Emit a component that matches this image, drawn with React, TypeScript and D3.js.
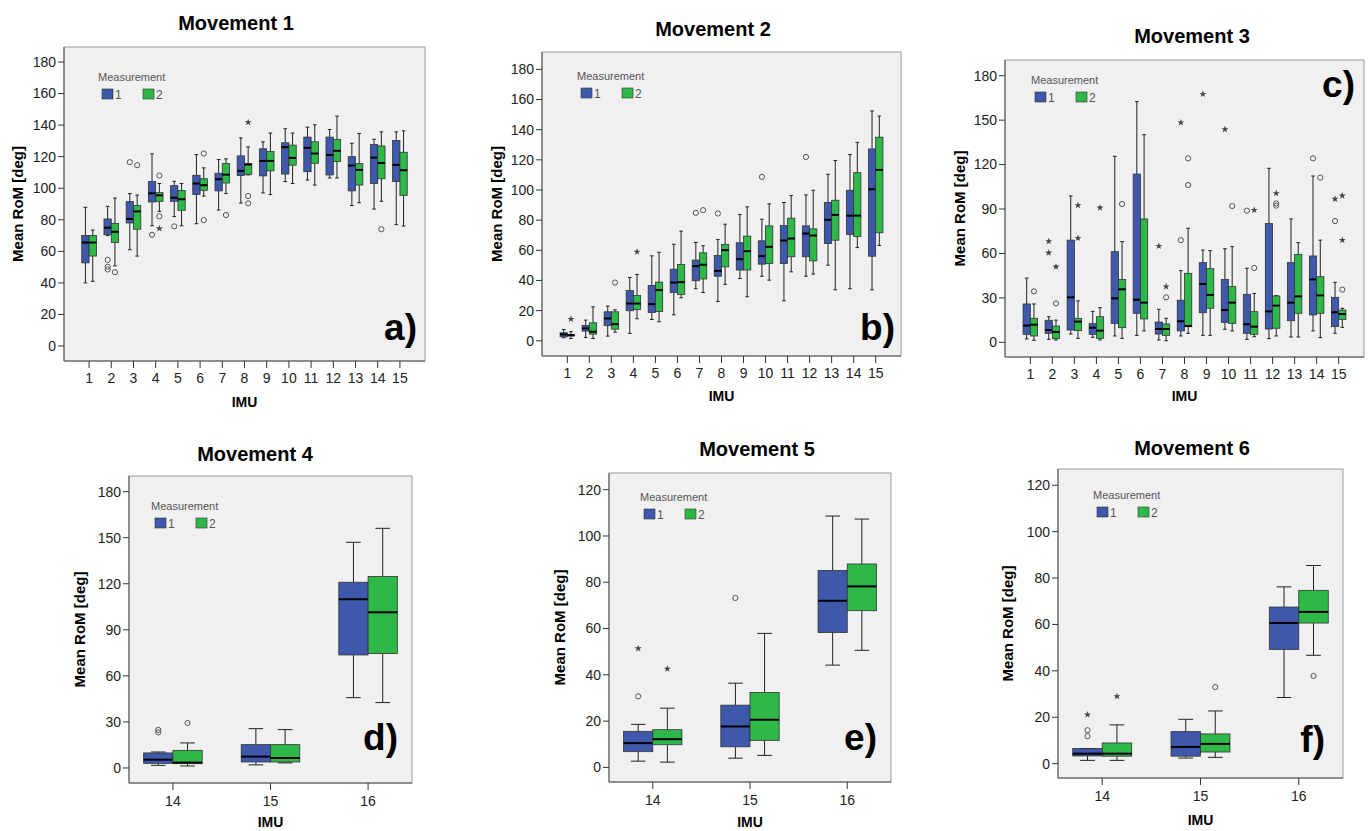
import React from "react";
import * as d3 from "d3";

// each box: [whisker low, Q1, median, Q3, whisker high]
type Five = [number, number, number, number, number];
// outlier: [IMU, measurement, value, marker]  "o" = circle, "*" = extreme
type Outlier = [string, number, number, string];

const imuAll = ["1", "2", "3", "4", "5", "6", "7", "8", "9", "10", "11", "12", "13", "14", "15"];
const imuLate = ["14", "15", "16"];

// ---- Movement 1
const mov1Meas1: Five[] = [
  [40, 52.7, 65.6, 70.1, 87.9], [70, 70.5, 75, 80.5, 88.5], [61, 78, 80.5, 91.5, 96.6],
  [76.2, 91.3, 96.8, 104.2, 121.8], [82, 91.7, 94, 101.6, 104.4], [77.5, 96.1, 103, 108.2, 121.3],
  [86.2, 98.3, 105.7, 109.5, 118.2], [90.6, 108, 111, 120.5, 131.9], [97, 107.8, 117.3, 125, 129.4],
  [104.2, 109, 126, 128.8, 137.7], [105.2, 110.5, 125.6, 132.4, 138.7], [106.5, 108.4, 121.1, 132.4, 137.2],
  [89, 98.3, 114.4, 120, 128.5], [86.8, 103, 119.4, 127.7, 131], [76.9, 104.2, 114.8, 130.2, 135.7],
];
const mov1Meas2: Five[] = [
  [41, 57, 65.6, 70, 73.5], [50.8, 65.6, 72.4, 77.7, 93.8], [57, 74, 85.3, 89, 95.7],
  [85.3, 91.7, 95.5, 97.2, 103], [76.2, 86, 93, 98.5, 103], [95, 98.7, 101.9, 106, 112.9],
  [96.6, 103.3, 108.6, 115.6, 118.6], [108.4, 108.8, 115, 115.6, 126.2], [96, 111, 117.3, 123.3, 135],
  [103, 114.6, 119.2, 127.3, 135], [102, 115.8, 122, 129.4, 140.2], [106.5, 116.9, 123.7, 130.9, 145.7],
  [90.8, 102, 111.6, 115.6, 134.7], [91.7, 106, 116, 126.8, 135.7], [76, 95.5, 111.4, 122.8, 136.4],
];
const mov1Outliers: Outlier[] = [
  ["2", 1, 54.6, "o"], ["2", 1, 50.2, "o"], ["2", 1, 48.5, "o"], ["3", 1, 116.5, "o"],
  ["4", 1, 70.5, "o"], ["5", 1, 75.8, "o"],
  ["2", 2, 46.8, "o"], ["3", 2, 114.6, "o"], ["4", 2, 108, "o"], ["4", 2, 82.2, "o"], ["4", 2, 74.5, "*"],
  ["6", 2, 122, "o"], ["6", 2, 79.8, "o"], ["7", 2, 83, "o"], ["8", 2, 141.7, "*"], ["8", 2, 95, "o"],
  ["8", 2, 90.4, "o"], ["14", 2, 74, "o"],
];

// ---- Movement 2
const mov2Meas1: Five[] = [
  [2, 2.6, 4.2, 5.3, 7.5], [2.2, 6.4, 8.2, 10.2, 13.7], [3.1, 10, 14.8, 19.2, 23],
  [4.9, 19.9, 24.7, 33.3, 42], [14.1, 18.8, 24.3, 36.7, 56.3], [17.2, 32, 38.6, 47.5, 64],
  [34.5, 39.8, 49.5, 53.5, 65.2], [26, 42.8, 46.4, 56.5, 67.1], [41.3, 46.9, 54.1, 65, 83.8],
  [42.8, 50.8, 56.1, 66.3, 80.6], [26.5, 51.2, 66.5, 76.4, 91.7], [42.8, 55.7, 71.1, 76.2, 96.7],
  [50.1, 64.5, 80.2, 91.7, 110.4], [34.5, 70.5, 83, 99.8, 123.5], [33.8, 56.1, 100.5, 127.2, 152.4],
];
const mov2Meas2: Five[] = [
  [1.5, 3.1, 3.8, 4.2, 6], [1.5, 4.4, 6, 11.9, 22.5], [5.7, 7.7, 11, 19.2, 20.5],
  [14.6, 20.8, 24.7, 30, 44], [12.6, 19.4, 33.6, 38.9, 58.7], [28.5, 30.7, 38.9, 50.6, 72.7],
  [32, 41, 50.4, 58.3, 63], [37.4, 49, 60.1, 63.9, 77.3], [29.2, 46.9, 59.4, 69.4, 88.8],
  [40.2, 51.2, 62.3, 76.2, 90.8], [45.7, 55.7, 67.8, 81.3, 96.3], [44.2, 53, 69.8, 74.2, 99.8],
  [33.8, 66.7, 83.5, 93.2, 119.5], [61.8, 69.1, 83, 111.5, 131.6], [63.2, 71.6, 113.3, 135, 149],
];
const mov2Outliers: Outlier[] = [
  ["1", 2, 14.4, "*"], ["3", 2, 38.6, "o"], ["4", 2, 59, "*"], ["7", 1, 84.8, "o"], ["7", 2, 86.6, "o"],
  ["8", 1, 84.4, "o"], ["10", 1, 108.7, "o"], ["12", 1, 121.9, "o"],
];

// ---- Movement 3
const mov3Meas1: Five[] = [
  [2.3, 5.4, 11.3, 25.9, 43.4], [2, 6.1, 8.3, 14.9, 17.3], [5.6, 8.3, 30.4, 69, 98.8],
  [3.4, 5.4, 9.9, 12.6, 20.9], [4.3, 12.8, 29.7, 61.2, 125.6], [4.7, 19.6, 28.8, 113.6, 162.5],
  [1.6, 5.6, 9, 13.7, 22.3], [4.3, 7.7, 14.2, 28.4, 48.4], [4.7, 20, 39.4, 53.8, 62.3],
  [8.8, 13.5, 21.8, 42.5, 63.2], [2, 6.1, 12.2, 32.4, 50], [2.5, 9, 20.9, 80.3, 117.5],
  [3.6, 14.6, 26.8, 53.8, 83.3], [7.7, 18.5, 42.5, 58.3, 112.3], [6.1, 10.6, 20.3, 30.4, 40.5],
];
const mov3Meas2: Five[] = [
  [1.4, 4.3, 11.9, 16.2, 25.9], [1.6, 2.5, 7, 11, 15], [2.7, 7.9, 14, 16.2, 28],
  [1.6, 2.7, 7.9, 17.3, 23.4], [2.7, 9.9, 35.8, 42.5, 68], [7.7, 15.8, 26.8, 83.3, 140.2],
  [1.1, 4.7, 9, 12.4, 16.2], [6.1, 10.6, 11, 46.6, 77], [4.7, 23, 32, 49.7, 61.9],
  [7.7, 12.8, 26.8, 37.6, 64.6], [3.8, 5.4, 10.6, 20.7, 33], [4.3, 9.5, 24.8, 31.3, 31.5],
  [3.6, 19.6, 31, 59.4, 67.3], [3.2, 19.6, 31.7, 44.3, 69], [10.1, 15.5, 19.1, 21.8, 23],
];
const mov3Outliers: Outlier[] = [
  ["2", 1, 68.2, "*"], ["2", 1, 60.5, "*"], ["7", 1, 65, "*"], ["8", 1, 148.3, "*"], ["8", 1, 69, "o"],
  ["9", 1, 167.6, "*"], ["10", 1, 143.8, "*"], ["11", 1, 88.9, "o"], ["14", 1, 124.2, "o"],
  ["15", 1, 96.8, "*"], ["15", 1, 81.9, "o"],
  ["1", 2, 34.4, "o"], ["2", 2, 51, "*"], ["2", 2, 26.3, "o"], ["3", 2, 92.5, "*"], ["3", 2, 70.4, "*"],
  ["4", 2, 90.9, "*"], ["5", 2, 93.4, "o"], ["7", 2, 37.6, "*"], ["7", 2, 30.4, "o"], ["8", 2, 124.2, "o"],
  ["8", 2, 106.2, "o"], ["10", 2, 92, "o"], ["11", 2, 89.3, "*"], ["11", 2, 50.2, "o"], ["12", 2, 100.6, "*"],
  ["12", 2, 93.8, "o"], ["12", 2, 92.3, "o"], ["14", 2, 111.2, "o"], ["15", 2, 99, "*"], ["15", 2, 69, "*"],
  ["15", 2, 35.6, "o"],
];

// ---- Movement 4
const mov4Meas1: Five[] = [[1.7, 3, 5.4, 9.8, 10.4], [2, 3.9, 7.4, 15.2, 25.6], [45.8, 73.6, 109.9, 121, 147]];
const mov4Meas2: Five[] = [[1.3, 2.8, 3.5, 11.5, 16.3], [3.3, 3.9, 6.5, 15.2, 25], [42.6, 74.5, 101.4, 124.8, 156.1]];
const mov4Outliers: Outlier[] = [["14", 1, 24.8, "o"], ["14", 1, 23.2, "o"], ["14", 2, 29.3, "o"]];

// ---- Movement 5
const mov5Meas1: Five[] = [[2.7, 6.8, 10.5, 15.6, 18.6], [4, 8.9, 17.7, 26.9, 36.4], [44.2, 58.3, 72, 85.1, 108.6]];
const mov5Meas2: Five[] = [[2.3, 9.8, 12.2, 16.3, 25.6], [5.2, 11.7, 20.6, 32.4, 57.9], [50.6, 67.7, 78.2, 87.9, 107.3]];
const mov5Outliers: Outlier[] = [["14", 1, 30.7, "o"], ["14", 1, 51.4, "*"], ["15", 1, 73.2, "o"], ["14", 2, 42.6, "*"]];

// ---- Movement 6
const mov6Meas1: Five[] = [[1.4, 3.3, 4.3, 6.5, 6.5], [2.4, 3.2, 7.2, 13.8, 19.1], [28.5, 49.2, 60.6, 67.5, 76.2]];
const mov6Meas2: Five[] = [[1.4, 3.2, 4.3, 8.9, 16.7], [2.7, 5, 8.5, 12.8, 22.7], [46.7, 60.6, 65.4, 74.7, 85.4]];
const mov6Outliers: Outlier[] = [
  ["14", 1, 14.4, "o"], ["14", 1, 11.8, "o"], ["14", 1, 21.1, "*"], ["14", 2, 29, "*"],
  ["15", 2, 33, "o"], ["16", 2, 37.8, "o"],
];

const COLORS = ["#3E58AC", "#2EB848"];
const FONT = "'Liberation Sans', Arial, sans-serif";
const starPath = d3.symbol(d3.symbolStar, 16)() as string;

interface Layout {
  frame: { l: number; t: number; r: number; b: number };
  yDom: [number, number];
  yMax: number;
  yStep: number;
  pad: number;
  boxFrac: number;
  title: [number, number];
  legend: [number, number];
  tag: [number, number];
  yTitleX: number;
  xTitleY: number;
  tickLabelDy: number;
}

function Panel(props: {
  title: string; tag: string; cats: string[]; meas1: Five[]; meas2: Five[]; outliers: Outlier[]; lay: Layout;
}) {
  const { title, tag, cats, meas1, meas2, outliers, lay } = props;
  const { l, t, r, b } = lay.frame;
  const x = d3.scalePoint<string>().domain(cats).range([l, r]).padding(lay.pad);
  const y = d3.scaleLinear().domain(lay.yDom).range([b, t]);
  const bw = x.step() * lay.boxFrac;
  const ticks = d3.range(0, lay.yMax + 0.1, lay.yStep);
  const boxX = (cat: string, m: number) => (x(cat) as number) - bw + (m - 1) * bw;

  const drawBox = (d: Five, cat: string, m: number) => {
    const x0 = boxX(cat, m);
    const cx = x0 + bw / 2;
    const cap = bw / 2;
    return (
      <g key={cat + "-" + m}>
        <line x1={cx} x2={cx} y1={y(d[4])} y2={y(d[3])} stroke="#222" />
        <line x1={cx} x2={cx} y1={y(d[1])} y2={y(d[0])} stroke="#222" />
        <line x1={cx - cap / 2} x2={cx + cap / 2} y1={y(d[4])} y2={y(d[4])} stroke="#222" />
        <line x1={cx - cap / 2} x2={cx + cap / 2} y1={y(d[0])} y2={y(d[0])} stroke="#222" />
        <rect x={x0} y={y(d[3])} width={bw} height={Math.max(1, y(d[1]) - y(d[3]))}
          fill={COLORS[m - 1]} stroke="#333" strokeWidth={0.8} />
        <line x1={x0} x2={x0 + bw} y1={y(d[2])} y2={y(d[2])} stroke="#000" strokeWidth={2} />
      </g>
    );
  };

  const [lx, ly] = lay.legend;
  return (
    <g fontFamily={FONT}>
      <text x={lay.title[0]} y={lay.title[1]} textAnchor="middle" fontSize={20} fontWeight="bold">{title}</text>
      <rect x={l} y={t} width={r - l} height={b - t} fill="#F0F0F0" stroke="#9A9A9A" />
      <line x1={l} x2={l} y1={t} y2={b} stroke="#555" />
      <line x1={l} x2={r} y1={b} y2={b} stroke="#555" />
      {ticks.map((v) => (
        <g key={"y" + v}>
          <line x1={l - 6} x2={l} y1={y(v)} y2={y(v)} stroke="#333" />
          <text x={l - 8} y={y(v)} dy="0.35em" textAnchor="end" fontSize={14} fill="#222">{v}</text>
        </g>
      ))}
      {cats.map((c) => (
        <g key={"x" + c}>
          <line x1={x(c)} x2={x(c)} y1={b} y2={b + 7} stroke="#333" />
          <text x={x(c)} y={b + lay.tickLabelDy} textAnchor="middle" fontSize={14} fill="#222">{c}</text>
        </g>
      ))}
      <text transform={`translate(${lay.yTitleX},${(t + b) / 2}) rotate(-90)`} dy="0.35em" textAnchor="middle"
        fontSize={15} fontWeight="bold">Mean RoM [deg]</text>
      <text x={(l + r) / 2} y={lay.xTitleY} textAnchor="middle" fontSize={14} fontWeight="bold">IMU</text>
      {cats.map((c, i) => drawBox(meas1[i], c, 1))}
      {cats.map((c, i) => drawBox(meas2[i], c, 2))}
      {outliers.map((o, i) => {
        const cx = boxX(o[0], o[1]) + bw / 2;
        const cy = y(o[2]);
        return o[3] === "o" ? (
          <circle key={"o" + i} cx={cx} cy={cy} r={2.6} fill="none" stroke="#555" />
        ) : (
          <path key={"o" + i} d={starPath} transform={`translate(${cx},${cy})`} fill="#444" />
        );
      })}
      <text x={lx} y={ly} fontSize={11} fill="#555">Measurement</text>
      {[1, 2].map((m) => (
        <g key={"lg" + m} transform={`translate(${lx + 4 + (m - 1) * 41},${ly + 8})`}>
          <rect width={11} height={10} fill={COLORS[m - 1]} stroke="#333" strokeWidth={0.6} />
          <text x={13} y={10} fontSize={12} fill="#555">{m}</text>
        </g>
      ))}
      <text x={lay.tag[0]} y={lay.tag[1]} textAnchor="end" fontSize={37} fontWeight="bold">{tag}</text>
    </g>
  );
}

const layA: Layout = { frame: { l: 64, t: 47, r: 425, b: 361 }, yDom: [-9.5, 189.5], yMax: 180, yStep: 20, pad: 1.13,
  boxFrac: 0.33, title: [236, 30], legend: [98, 81], tag: [417, 340], yTitleX: 18, xTitleY: 407, tickLabelDy: 22 };
const layB: Layout = { frame: { l: 542, t: 52, r: 901, b: 356 }, yDom: [-10.1, 191.5], yMax: 180, yStep: 20, pad: 1.15,
  boxFrac: 0.33, title: [713, 36], legend: [577, 80], tag: [895, 340], yTitleX: 497, xTitleY: 401, tickLabelDy: 22 };
const layC: Layout = { frame: { l: 1005, t: 60, r: 1364, b: 357 }, yDom: [-9.9, 190.6], yMax: 180, yStep: 30, pad: 1.15,
  boxFrac: 0.33, title: [1192, 43], legend: [1031, 84], tag: [1355, 97], yTitleX: 960, xTitleY: 401, tickLabelDy: 22 };
const layD: Layout = { frame: { l: 129, t: 476, r: 412, b: 783 }, yDom: [-9.8, 190.2], yMax: 180, yStep: 30, pad: 0.45,
  boxFrac: 0.3, title: [255, 461], legend: [151, 510], tag: [398, 750], yTitleX: 80, xTitleY: 827, tickLabelDy: 23 };
const layE: Layout = { frame: { l: 609, t: 473, r: 891, b: 782 }, yDom: [-6.3, 127.2], yMax: 120, yStep: 20, pad: 0.45,
  boxFrac: 0.3, title: [757, 456], legend: [640, 501], tag: [877, 750], yTitleX: 560, xTitleY: 827, tickLabelDy: 23 };
const layF: Layout = { frame: { l: 1058, t: 469, r: 1343, b: 778 }, yDom: [-6.2, 127], yMax: 120, yStep: 20, pad: 0.45,
  boxFrac: 0.3, title: [1192, 455], legend: [1093, 499], tag: [1325, 752], yTitleX: 1008, xTitleY: 825, tickLabelDy: 23 };

export default function App() {
  return (
    <svg width={1371} height={831} style={{ position: "absolute", left: 0, top: 0, background: "#fff" }}>
      <rect width={1371} height={831} fill="#fff" />
      <Panel title="Movement 1" tag="a)" cats={imuAll} meas1={mov1Meas1} meas2={mov1Meas2} outliers={mov1Outliers} lay={layA} />
      <Panel title="Movement 2" tag="b)" cats={imuAll} meas1={mov2Meas1} meas2={mov2Meas2} outliers={mov2Outliers} lay={layB} />
      <Panel title="Movement 3" tag="c)" cats={imuAll} meas1={mov3Meas1} meas2={mov3Meas2} outliers={mov3Outliers} lay={layC} />
      <Panel title="Movement 4" tag="d)" cats={imuLate} meas1={mov4Meas1} meas2={mov4Meas2} outliers={mov4Outliers} lay={layD} />
      <Panel title="Movement 5" tag="e)" cats={imuLate} meas1={mov5Meas1} meas2={mov5Meas2} outliers={mov5Outliers} lay={layE} />
      <Panel title="Movement 6" tag="f)" cats={imuLate} meas1={mov6Meas1} meas2={mov6Meas2} outliers={mov6Outliers} lay={layF} />
    </svg>
  );
}
